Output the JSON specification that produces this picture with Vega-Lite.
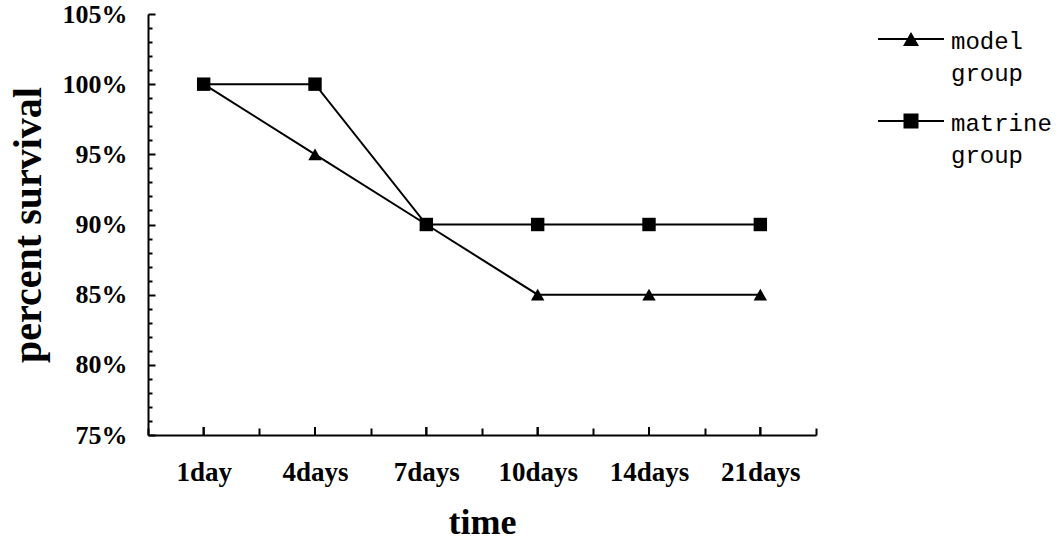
{
  "$schema": "https://vega.github.io/schema/vega-lite/v6.json",
  "width": 668,
  "height": 421,
  "autosize": {"type": "none"},
  "padding": {"left": 148, "top": 14, "right": 247, "bottom": 107},
  "background": "white",
  "config": {
    "view": {"stroke": null},
    "style": {"guide-label": {"lineHeight": 32}},
    "axis": {
      "domainColor": "black",
      "domainWidth": 2,
      "tickColor": "black",
      "tickWidth": 2,
      "labelColor": "black",
      "titleColor": "black",
      "labelFont": "Liberation Serif",
      "labelFontWeight": "bold",
      "titleFont": "Liberation Serif",
      "titleFontWeight": "bold",
      "labelOverlap": false,
      "grid": false
    }
  },
  "data": {
    "values": [
      {"time": "1day", "group": "model group", "survival": 100},
      {"time": "4days", "group": "model group", "survival": 95},
      {"time": "7days", "group": "model group", "survival": 90},
      {"time": "10days", "group": "model group", "survival": 85},
      {"time": "14days", "group": "model group", "survival": 85},
      {"time": "21days", "group": "model group", "survival": 85},
      {"time": "1day", "group": "matrine group", "survival": 100},
      {"time": "4days", "group": "matrine group", "survival": 100},
      {"time": "7days", "group": "matrine group", "survival": 90},
      {"time": "10days", "group": "matrine group", "survival": 90},
      {"time": "14days", "group": "matrine group", "survival": 90},
      {"time": "21days", "group": "matrine group", "survival": 90}
    ]
  },
  "encoding": {
    "x": {
      "field": "time", "type": "ordinal", "sort": null,
      "scale": {"domain": ["1day", "4days", "7days", "10days", "14days", "21days"], "paddingInner": 0, "paddingOuter": 0},
      "axis": {
        "orient": "bottom",
        "tickBand": "extent",
        "tickSize": -7,
        "labelPadding": 31,
        "labelFontSize": 27,
        "labelAngle": 0,
        "title": "time",
        "titleFontSize": 36,
        "titlePadding": 20
      }
    }
  },
  "layer": [
    {
      "mark": {"type": "line", "color": "black", "strokeWidth": 2},
      "encoding": {
        "y": {
          "field": "survival", "type": "quantitative",
          "scale": {"domain": [75, 105], "nice": false, "zero": false},
          "axis": {
            "orient": "left",
            "values": [75, 76, 77, 78, 79, 80, 81, 82, 83, 84, 85, 86, 87, 88, 89, 90, 91, 92, 93, 94, 95, 96, 97, 98, 99, 100, 101, 102, 103, 104, 105],
            "tickCount": 40,
            "tickSize": {"condition": {"test": "datum.value % 5 === 0", "value": -7}, "value": -4},
            "labelOverlap": false,
            "labelPadding": 28,
            "labelFontSize": 26,
            "labelExpr": "datum.value % 5 === 0 ? datum.value + '%' : ''",
            "title": "percent survival",
            "titleFontSize": 40,
            "titlePadding": 14
          }
        },
        "detail": {"field": "group"}
      }
    },
    {
      "mark": {"type": "tick", "orient": "vertical", "color": "black", "thickness": 2, "size": 8, "yOffset": -4, "opacity": 1},
      "encoding": {
        "y": {"datum": 75}
      }
    },
    {
      "mark": {"type": "point", "filled": true, "color": "black", "opacity": 1, "size": 180},
      "encoding": {
        "y": {"field": "survival", "type": "quantitative"},
        "shape": {
          "field": "group", "type": "nominal",
          "scale": {"domain": ["model group", "matrine group"], "range": ["triangle-up", "square"]},
          "legend": null
        }
      }
    },
    {
      "transform": [{"filter": "false"}],
      "mark": {"type": "point", "filled": true, "fill": "black", "opacity": 1},
      "encoding": {
        "x": null,
        "shape": {
          "field": "group", "type": "nominal",
          "scale": {
            "domain": ["model group", "matrine group"],
            "range": [
              "M-1.32,0.32L1.32,0.32L1.32,0.4L-1.32,0.4ZM-0.32,0.64L0,0.08L0.32,0.64Z",
              "M-1.32,0.32L1.32,0.32L1.32,0.4L-1.32,0.4ZM-0.3,0.06L0.3,0.06L0.3,0.66L-0.3,0.66Z"
            ]
          },
          "legend": {
            "title": null,
            "orient": "none",
            "legendX": 737,
            "legendY": -10,
            "symbolSize": 2500,
            "symbolFillColor": "black",
            "symbolOpacity": 1,
            "labelFont": "Liberation Mono",
            "labelFontSize": 24,
            "labelColor": "black",
            "labelBaseline": "top",
            "labelOffset": 14,
            "labelExpr": "split(datum.label, ' ')",
            "rowPadding": 0
          }
        }
      }
    }
  ],
  "resolve": {
    "scale": {"shape": "independent"}
  }
}
